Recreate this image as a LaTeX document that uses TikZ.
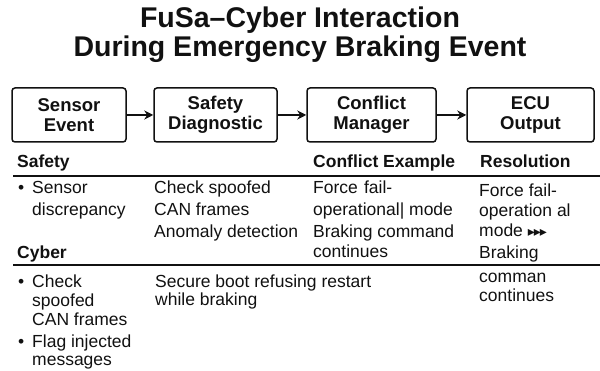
\documentclass[tikz,border=0pt]{standalone}
\usepackage{fontspec}
\setmainfont{Liberation Sans}
\newfontfamily\symfont{DejaVu Sans}
\usetikzlibrary{arrows.meta}

\definecolor{ink}{HTML}{111111}

\tikzset{
  titletext/.style={font=\fontsize{28.5}{30}\selectfont\bfseries, text=ink, inner sep=0pt},
  stagebox/.style={draw=ink, line width=1.5pt, rounded corners=3pt, inner sep=0pt,
    align=center, text=ink, font=\fontsize{18.5}{20.5}\selectfont\bfseries},
  flow/.style={draw=ink, line width=1.9pt, -{Stealth[length=9pt,width=9pt]}},
  headtext/.style={font=\fontsize{17.5}{20}\selectfont\bfseries, text=ink, inner sep=0pt, anchor=base west},
  cell/.style={font=\fontsize{17.5}{20}\selectfont, text=ink, inner sep=0pt, anchor=base west},
  rule/.style={draw=ink, line width=1.1pt},
}

\begin{document}
\begin{tikzpicture}[x=1pt, y=-1pt]
  \useasboundingbox (0,0) rectangle (600,371);

  % heading
  \node[titletext] (t1) at (300,20) {FuSa–Cyber Interaction};
  \node[titletext] (t2) at (300,49) {During Emergency Braking Event};

  % processing chain
  \node[stagebox, minimum width=114pt, minimum height=54pt] (b1) at (69,115) {Sensor\\Event};
  \node[stagebox, minimum width=123pt, minimum height=54pt] (b2) at (215.5,115) {Safety\\Diagnostic};
  \node[stagebox, minimum width=129pt, minimum height=54pt] (b3) at (371.5,115) {Conflict\\Manager};
  \node[stagebox, minimum width=127pt, minimum height=54pt] (b4) at (530.5,115) {ECU\\Output};

  \draw[flow] (b1.east) -- (b2.west);
  \draw[flow] (b2.east) -- (b3.west);
  \draw[flow] (b3.east) -- (b4.west);

  % table headings and rules
  \node[headtext] (hs) at (17,168) {Safety};
  \node[headtext] (hc) at (313,168) {Conflict Example};
  \node[headtext] (hr) at (480,168) {Resolution};
  \coordinate (r1a) at (13,176);
  \coordinate (r1b) at (600,176);
  \draw[rule] (r1a) -- (r1b);

  % safety row
  \node[cell] (sb1) at (18,194) {•};
  \node[cell] (s1) at (32,194) {Sensor};
  \node[cell] (s2) at (32,216) {discrepancy};
  \node[cell] (d1) at (154,194) {Check spoofed};
  \node[cell] (d2) at (154,216) {CAN frames};
  \node[cell] (d3) at (154,238) {Anomaly detection};
  \node[cell] (c1) at (313,194) {Force\hspace{0.35em}fail-};
  \node[cell] (c2) at (313,216) {operational| mode};
  \node[cell] (c3) at (313,238) {Braking command};
  \node[cell] (c4) at (313,258) {continues};
  \node[cell] (e1) at (479,197) {Force fail-};
  \node[cell] (e2) at (479,217) {operation al};
  \node[cell] (e3) at (479,237) {mode {\symfont\fontsize{14}{14}\selectfont ▸\kern-1pt▸\kern-1pt▸}};
  \node[cell] (e4) at (479,259) {Braking};

  % cyber row
  \node[headtext] (hy) at (17,259) {Cyber};
  \coordinate (r2a) at (13,265);
  \coordinate (r2b) at (600,265);
  \draw[rule] (r2a) -- (r2b);

  \node[cell] (yb1) at (18,288) {•};
  \node[cell] (y1) at (32,288) {Check};
  \node[cell] (y2) at (32,307) {spoofed};
  \node[cell] (y3) at (32,326) {CAN frames};
  \node[cell] (yb2) at (18,348) {•};
  \node[cell] (y4) at (32,348) {Flag injected};
  \node[cell] (y5) at (32,366) {messages};
  \node[cell] (k1) at (155,288) {Secure boot refusing restart};
  \node[cell] (k2) at (155,306) {while braking};
  \node[cell] (f1) at (479,283) {comman};
  \node[cell] (f2) at (479,302) {continues};
\end{tikzpicture}
\end{document}
